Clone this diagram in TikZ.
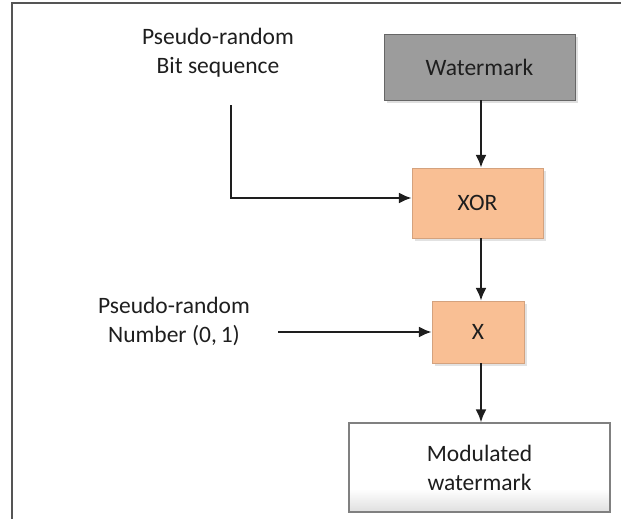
\documentclass[tikz,border=0pt]{standalone}
\usepackage{fontspec}
\setmainfont{Carlito}
\usepackage{tikz}
\usetikzlibrary{arrows.meta, positioning, shadows}
\definecolor{frameg}{HTML}{555555}
\definecolor{wmgray}{HTML}{9C9C9C}
\definecolor{peach}{HTML}{F9BF94}
\definecolor{inkc}{HTML}{1E1E1E}
\pgfdeclareverticalshading{outshade}{100bp}{color(0bp)=(gray!70); color(20bp)=(gray!35); color(38bp)=(white); color(100bp)=(white)}
\def\lbl{\fontsize{23.5}{29}\selectfont}
\tikzstyle{wmbox} = [rectangle, draw=gray!80!black, fill=wmgray, minimum width=191pt, minimum height=66pt, text=inkc, font=\lbl,
                     drop shadow={shadow xshift=3pt, shadow yshift=-3pt, fill=gray!50}]
\tikzstyle{opbox} = [rectangle, draw=peach!85!black, fill=peach, text=inkc, font=\lbl,
                     drop shadow={shadow xshift=3pt, shadow yshift=-3pt, fill=gray!45}]
\tikzstyle{outbox} = [rectangle, draw=gray, line width=1.2pt, shading=outshade, minimum width=261pt, minimum height=89pt, text=inkc, font=\lbl, align=center]
\tikzstyle{src} = [align=center, text=inkc, font=\lbl]
\tikzstyle{flow} = [-{Latex[length=13pt,width=11pt]}, line width=2.2pt, inkc]

\begin{document}
\begin{tikzpicture}[x=1pt, y=-1pt]
  \useasboundingbox (0,0) rectangle (621,519);
  \draw [frameg, line width=2pt] (12,530) -- (12,3.5) -- (630,3.5);

  \node (wm)  [wmbox] at (479.5,67) {Watermark};
  \node (xor) [opbox, minimum width=131pt, minimum height=70pt] at (477.5,203) {XOR};
  \node (mul) [opbox, minimum width=92pt, minimum height=62pt] at (478,332) {X};
  \node (out) [outbox] at (479.5,467.5) {Modulated\\watermark};

  \node (bits) [src] at (218,53) {Pseudo-random\\Bit sequence};
  \node (num)  [src] at (174,321) {Pseudo-random\\Number (0,\,1)};

  \coordinate (bitstart) at (231,105);
  \coordinate (numstart) at (278,332);

  \draw [flow] (wm.south -| 481,0) -- (xor.north -| 481,0);
  \draw [flow] (bitstart) |- ([yshift=5pt]xor.west);
  \draw [flow] (xor.south -| 481,0) -- (mul.north -| 481,0);
  \draw [flow] (numstart) -- (mul.west);
  \draw [flow] (mul.south -| 481,0) -- (out.north -| 481,0);

\end{tikzpicture}
\end{document}
